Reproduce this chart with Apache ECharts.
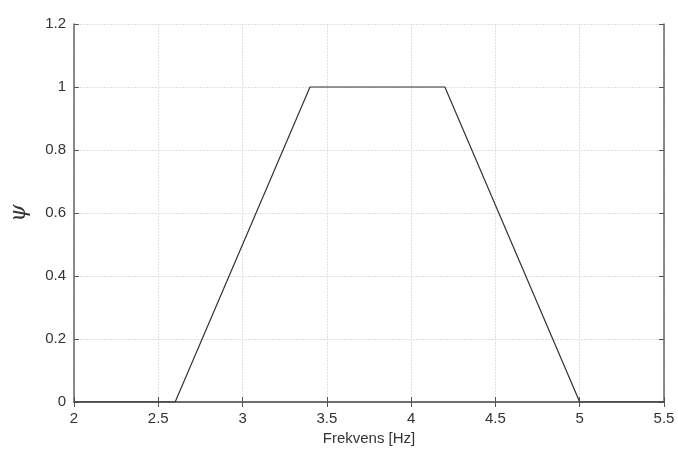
<!DOCTYPE html>
<html><head><meta charset="utf-8">
<script src="https://cdn.jsdelivr.net/npm/echarts@6/dist/echarts.min.js"></script>
<style>html,body{margin:0;padding:0;background:#fff}#c{width:678px;height:453px}</style>
</head><body><div id="c"></div>
<script>
const freq = [2, 2.6, 3.4, 4.2, 5, 5.5];
const psi = [0, 0, 1, 1, 0, 0];
const xTicks = [2, 2.5, 3, 3.5, 4, 4.5, 5, 5.5];
const yTicks = [0, 0.2, 0.4, 0.6, 0.8, 1, 1.2];

const chart = echarts.init(document.getElementById('c'));
const axisCommon = {
  axisLine: {show: true, lineStyle: {color: '#666', width: 1.5}},
  axisTick: {show: true, inside: true, length: 5, lineStyle: {color: '#555'}},
  axisLabel: {color: '#333', fontSize: 15, fontFamily: 'Liberation Sans, Arial, sans-serif'},
  splitLine: {show: false}
};
chart.setOption({
  animation: false,
  grid: {left: 73, right: 14, top: 24, bottom: 51, containLabel: false},
  xAxis: [
    Object.assign({}, axisCommon, {
      type: 'value', min: 2, max: 5.5, interval: 0.5, position: 'bottom',
      name: 'Frekvens [Hz]', nameLocation: 'middle', nameGap: 29,
      nameTextStyle: {color: '#333', fontSize: 15, fontFamily: 'Liberation Sans, Arial, sans-serif'},
      axisLabel: Object.assign({}, axisCommon.axisLabel, {margin: 9, formatter: v => String(v)}),
      splitLine: {show: true, lineStyle: {color: '#e0e0e0', type: [2, 1], width: 1}}
    }),
    Object.assign({}, axisCommon, {
      type: 'value', min: 2, max: 5.5, interval: 0.5, position: 'top',
      axisLabel: {show: false}
    })
  ],
  yAxis: [
    Object.assign({}, axisCommon, {
      type: 'value', min: 0, max: 1.2, interval: 0.2, position: 'left',
      name: 'ψ', nameLocation: 'middle', nameGap: 44, nameRotate: 90,
      nameTextStyle: {color: '#333', fontSize: 22, fontStyle: 'italic', fontFamily: 'DejaVu Serif, serif'},
      axisLabel: Object.assign({}, axisCommon.axisLabel, {margin: 8, formatter: v => String(+v.toFixed(1))}),
      splitLine: {show: true, lineStyle: {color: '#e0e0e0', type: [2, 1], width: 1}}
    }),
    Object.assign({}, axisCommon, {
      type: 'value', min: 0, max: 1.2, interval: 0.2, position: 'right',
      axisLabel: {show: false}
    })
  ],
  series: [{
    type: 'line',
    data: freq.map((f, i) => [f, psi[i]]),
    showSymbol: false,
    lineStyle: {color: '#333', width: 1.2},
    z: 5
  }]
});
</script></body></html>
